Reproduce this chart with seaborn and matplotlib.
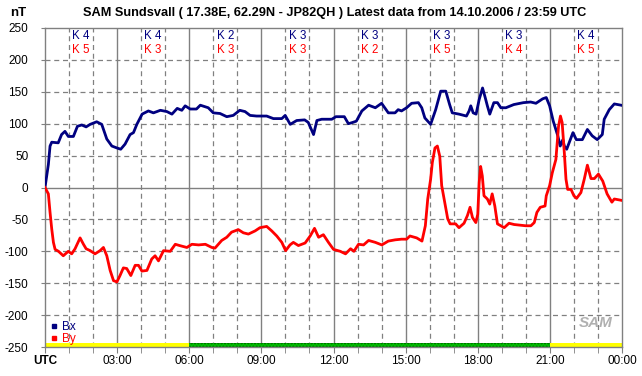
import pandas as pd
import matplotlib
matplotlib.use('Agg')
import matplotlib.pyplot as plt
import seaborn as sns
from matplotlib.lines import Line2D

plt.rcParams['font.family'] = ['Liberation Sans', 'DejaVu Sans']
plt.rcParams['axes.unicode_minus'] = False
plt.rcParams['hatch.linewidth'] = 1.0

# Bx (nT) against hours UTC
bx_hours = [0.0, 0.07, 0.14, 0.21, 0.28, 0.55, 0.69, 0.83, 0.97, 1.18, 1.35, 1.53,
            1.71, 1.88, 2.15, 2.36, 2.57, 2.78, 2.99, 3.15, 3.33, 3.54, 3.68, 3.82,
            4.04, 4.3, 4.51, 4.8, 5.07, 5.28, 5.5, 5.69, 5.83, 6.04, 6.3, 6.46,
            6.79, 7.0, 7.28, 7.56, 7.83, 8.1, 8.32, 8.53, 8.8, 9.22, 9.5, 9.85,
            9.99, 10.2, 10.47, 10.8, 10.95, 11.17, 11.31, 11.51, 11.72, 11.93,
            12.1, 12.45, 12.62, 12.8, 12.95, 13.18, 13.46, 13.74, 14.0, 14.28,
            14.56, 14.69, 14.83, 15.04, 15.25, 15.53, 15.67, 15.8, 16.04, 16.25,
            16.46, 16.67, 16.83, 16.94, 17.22, 17.53, 17.64, 17.71, 17.81, 17.93,
            18.06, 18.2, 18.31, 18.4, 18.5, 18.67, 18.82, 18.96, 19.17, 19.5,
            19.9, 20.2, 20.42, 20.7, 20.85, 20.99, 21.14, 21.33, 21.43, 21.54,
            21.6, 21.7, 21.83, 21.96, 22.1, 22.35, 22.56, 22.76, 22.97, 23.18,
            23.26, 23.47, 23.68, 23.96]
bx_values = [0, 18, 36, 65, 71, 70, 83, 88, 80, 80, 96, 98,
             95, 99, 103, 99, 76, 65, 62, 60, 68, 83, 86, 99,
             115, 120, 117, 121, 119, 115, 124, 121, 128, 123, 123, 129,
             125, 117, 116, 111, 113, 121, 119, 113, 112, 112, 108, 108,
             113, 99, 105, 106, 102, 83, 105, 107, 107, 107,
             111, 111, 100, 102, 104, 120, 129, 125, 132, 117,
             117, 122, 120, 125, 132, 133, 125, 109, 99, 122,
             151, 151, 130, 117, 115, 112, 120, 128, 117, 115,
             138, 156, 141, 128, 115, 133, 133, 125, 125, 130,
             133, 134, 132, 139, 141, 128, 104, 81, 65, 75,
             65, 60, 73, 86, 75, 75, 91, 81, 75, 83,
             107, 122, 131, 129]

# By (nT) against hours UTC
by_hours = [0.0, 0.14, 0.21, 0.28, 0.35, 0.42, 0.56, 0.76, 0.97, 1.11, 1.25, 1.46,
            1.6, 1.71, 1.88, 2.08, 2.29, 2.43, 2.57, 2.71, 2.85, 2.99, 3.12,
            3.26, 3.4, 3.57, 3.75, 3.89, 4.03, 4.24, 4.44, 4.58, 4.72, 4.93,
            5.21, 5.42, 5.6, 5.9, 6.11, 6.39, 6.67, 6.94, 7.07, 7.35, 7.56,
            7.76, 8.04, 8.25, 8.46, 8.74, 8.94, 9.22, 9.43, 9.64, 9.85, 10.01,
            10.19, 10.33, 10.54, 10.82, 11.03, 11.21, 11.38, 11.58, 11.79, 12.0,
            12.28, 12.5, 12.71, 12.85, 13.04, 13.25, 13.46, 13.74, 14.01, 14.28,
            14.57, 14.83, 15.04, 15.18, 15.46, 15.68, 15.82, 15.92, 16.04, 16.11,
            16.22, 16.32, 16.42, 16.5, 16.64, 16.75, 16.85, 17.08, 17.22, 17.43,
            17.57, 17.68, 17.78, 17.92, 18.0, 18.06, 18.12, 18.19, 18.26, 18.4,
            18.5, 18.6, 18.71, 18.82, 18.96, 19.1, 19.3, 19.51, 20.0, 20.21,
            20.35, 20.46, 20.6, 20.8, 20.85, 20.99, 21.1, 21.25, 21.36, 21.44,
            21.51, 21.6, 21.67, 21.74, 21.88, 22.0, 22.11, 22.29, 22.43, 22.56,
            22.71, 22.85, 23.02, 23.2, 23.38, 23.58, 23.68, 23.96]
by_values = [0, -10, -39, -65, -86, -97, -100, -107, -100, -104, -96, -79,
             -89, -96, -99, -104, -99, -94, -107, -130, -146, -148, -138,
             -126, -127, -138, -122, -122, -131, -130, -112, -107, -115, -99,
             -100, -89, -91, -94, -89, -90, -89, -94, -95, -83, -78,
             -70, -66, -71, -73, -68, -63, -61, -68, -76, -86, -99,
             -90, -86, -91, -87, -76, -64, -78, -74, -86, -97,
             -100, -104, -96, -100, -89, -90, -83, -86, -90, -84,
             -82, -81, -81, -76, -79, -84, -60, -18, 13, 39,
             62, 65, 49, 3, -26, -49, -57, -57, -63, -56,
             -44, -31, -47, -55, -42, 8, 33, 18, -13, -18,
             -26, -10, -29, -57, -60, -63, -56, -58, -60, -60,
             -55, -39, -31, -29, -13, 3, 23, 44, 96, 112,
             102, 55, 13, -3, -3, -13, -17, -8, 13, 35,
             14, 14, 21, 10, -10, -23, -18, -20]

# K indices per 3 hour block
k_bx = [4, 4, 2, 3, 3, 3, 3, 4]
k_by = [5, 3, 3, 3, 2, 5, 4, 5]

hour_labels = ['UTC', '03:00', '06:00', '09:00', '12:00', '15:00', '18:00', '21:00', '00:00']

df = pd.concat([
    pd.DataFrame({'hour': bx_hours, 'nT': bx_values, 'comp': 'Bx'}),
    pd.DataFrame({'hour': by_hours, 'nT': by_values, 'comp': 'By'}),
])

navy = '#000080'
red = '#ff0000'
grid_c = '#808080'

fig = plt.figure(figsize=(6.42, 3.76), dpi=100)
ax = fig.add_axes([45 / 642, 29 / 376, 577 / 642, 319 / 376])

# grid
for h in range(1, 24):
    if h % 3 == 0:
        ax.axvline(h, color=grid_c, lw=1.0, zorder=0)
    else:
        ax.axvline(h, color=grid_c, lw=0.9, ls=(0, (4, 3)), zorder=0)
for v in range(-200, 250, 50):
    if v == 0:
        ax.axhline(v, color=grid_c, lw=1.0, zorder=0)
    else:
        ax.axhline(v, color=grid_c, lw=0.9, ls=(0, (4, 3)), zorder=0)

sns.lineplot(data=df, x='hour', y='nT', hue='comp', palette={'Bx': navy, 'By': red},
             estimator=None, sort=False, lw=2.0, legend=False, ax=ax, zorder=3)

# status bar at the bottom
ax.fill_between([0, 6], -250, -244, facecolor='#ffff00', edgecolor=red, hatch='.', lw=0, zorder=2)
ax.fill_between([21, 24], -250, -244, facecolor='#ffff00', edgecolor=red, hatch='.', lw=0, zorder=2)
ax.fill_between([6, 21], -250, -244, facecolor='#00c000', edgecolor='#006000', hatch='.....', lw=0, zorder=2)

# K indices
for i in range(8):
    xc = 1.5 + 3 * i
    ax.text(xc, 237, 'K %d' % k_bx[i], color=navy, ha='center', va='center', fontsize=8.3)
    ax.text(xc, 216, 'K %d' % k_by[i], color=red, ha='center', va='center', fontsize=8.3)

ax.set_xlim(0, 24)
ax.set_ylim(-250, 250)
ax.set_xticks(range(0, 25, 3))
ax.set_xticklabels(hour_labels)
ax.get_xticklabels()[0].set_fontweight('bold')
ax.set_xticks(range(0, 25), minor=True)
ax.set_yticks(range(-250, 251, 50))
ax.set_yticklabels([str(v) for v in range(-250, 251, 50)])
ax.tick_params(axis='x', which='both', length=4, color=grid_c, labelsize=8.5, pad=2)
ax.tick_params(axis='y', length=3, color=grid_c, labelsize=8.5, pad=9)
for lab in ax.get_yticklabels():
    lab.set_horizontalalignment('right')
ax.set_xlabel('')
ax.set_ylabel('')
for s in ax.spines.values():
    s.set_color(grid_c)
    s.set_linewidth(1.0)

# legend
handles = [Line2D([], [], ls='', marker='s', ms=3.5, color=navy, label='Bx'),
           Line2D([], [], ls='', marker='s', ms=3.5, color=red, label='By')]
leg = ax.legend(handles=handles, loc='lower left', bbox_to_anchor=(0.0, -0.012), frameon=False,
                fontsize=8.5, handlelength=0.6, handletextpad=0.3, labelspacing=0.0,
                borderaxespad=0.1)
for t, c in zip(leg.get_texts(), [navy, red]):
    t.set_color(c)

# logo
ax.text(0.955, 0.075, 'SAM', transform=ax.transAxes, ha='center', va='center',
        fontsize=11, fontstyle='italic', fontweight='bold', color='#b0b0b0', zorder=4)

fig.text(335 / 642, 1 - 13 / 376, 'SAM Sundsvall ( 17.38E, 62.29N - JP82QH ) Latest data from 14.10.2006 / 23:59 UTC',
         ha='center', va='center', fontsize=9.2, fontweight='bold')
fig.text(18 / 642, 1 - 13 / 376, 'nT', ha='center', va='center', fontsize=9.5, fontweight='bold')

fig.savefig('out.png', dpi=100, facecolor='white')
